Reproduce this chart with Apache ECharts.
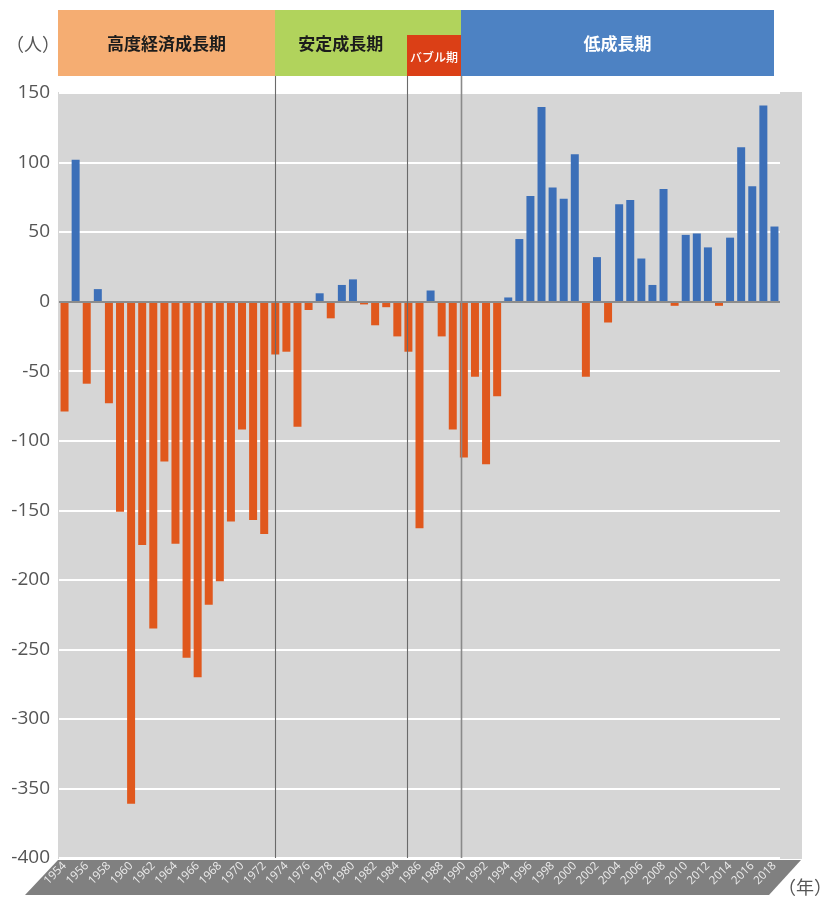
<!DOCTYPE html>
<html>
<head>
<meta charset="utf-8">
<script src="https://cdn.jsdelivr.net/npm/echarts@6/dist/echarts.min.js"></script>
<style>
html,body{margin:0;padding:0;background:#fff;}
#main{width:822px;height:898px;}
</style>
</head>
<body>
<div id="main"></div>
<script>
// ---- data ----
const years = [];
for (let y = 1954; y <= 2018; y++) years.push(String(y));
const values = [
  -79, 102, -59, 9, -73, -151, -361, -175, -235, -115,   // 1954-1963
  -174, -256, -270, -218, -201, -158, -92, -157, -167, -38, // 1964-1973
  -36, -90, -6, 6, -12, 12, 16, -2, -17, -4,               // 1974-1983
  -25, -36, -163, 8, -25, -92, -112, -54, -117, -68,       // 1984-1993
  3, 45, 76, 140, 82, 74, 106, -54, 32, -15,               // 1994-2003
  70, 73, 31, 12, 81, -3, 48, 49, 39, -3,                  // 2004-2013
  46, 111, 83, 141, 54                                     // 2014-2018
];
const yMin = -400, yMax = 150, yStep = 50;
const periodNames = ['高度経済成長期', '安定成長期', 'バブル期', '低成長期'];
const periodFrom = [1953.5, 1973, 1984.85, 1989.7];
const periodTo = [1973, 1989.7, 1989.7, 2018];
const dividerYears = [1973, 1984.85, 1989.7];
const unitY = '（人）';
const unitX = '（年）';

const BLUE = '#3C6FB8', ORANGE = '#E0581D';
const periodColors = ['#F5AD72', '#B1D35C', '#DB3F16', '#4D82C3'];
const periodTextColors = ['#1c1c1c', '#1c1c1c', '#ffffff', '#ffffff'];

const chart = echarts.init(document.getElementById('main'), null, {renderer: 'canvas'});
const GRID = {left: 59, right: 42, top: 93, bottom: 40};

chart.setOption({
  animation: false,
  backgroundColor: '#ffffff',
  grid: GRID,
  xAxis: {
    type: 'category',
    data: years,
    axisLine: {show: false},
    axisTick: {show: false},
    axisLabel: {
      interval: 1, rotate: 45, margin: 6,
      color: '#ececec', fontSize: 11.5, fontFamily: 'Open Sans, Noto Sans, sans-serif'
    },
    splitLine: {show: false}
  },
  yAxis: {
    type: 'value', min: yMin, max: yMax, interval: yStep,
    axisLine: {show: false}, axisTick: {show: false},
    axisLabel: {color: '#555', fontSize: 19, margin: 9, fontFamily: 'Open Sans, Noto Sans, sans-serif'},
    splitLine: {lineStyle: {color: '#ffffff', width: 2}}
  },
  series: [{
    type: 'bar',
    data: values,
    barWidth: '72%',
    itemStyle: {color: p => p.value >= 0 ? BLUE : ORANGE},
    markLine: {
      silent: true, symbol: 'none', label: {show: false},
      lineStyle: {color: '#8c8c8c', width: 2, type: 'solid'},
      data: [{yAxis: 0}]
    }
  }]
});

// ---- decorations computed from the axes ----
function xOf(year) {
  const base = Math.floor(year);
  const frac = year - base;
  const i0 = years.indexOf(String(base));
  if (i0 < 0) {
    const first = chart.convertToPixel({xAxisIndex: 0}, 0);
    const second = chart.convertToPixel({xAxisIndex: 0}, 1);
    return first + (year - Number(years[0])) * (second - first);
  }
  const x0 = chart.convertToPixel({xAxisIndex: 0}, i0);
  const x1 = chart.convertToPixel({xAxisIndex: 0}, Math.min(i0 + 1, years.length - 1));
  const step = i0 + 1 < years.length ? (x1 - x0) : (x0 - chart.convertToPixel({xAxisIndex: 0}, i0 - 1));
  return x0 + frac * step;
}
const yTop = chart.convertToPixel({yAxisIndex: 0}, yMax);
const yBot = chart.convertToPixel({yAxisIndex: 0}, yMin);
const gridL = GRID.left;
const gridR = 822 - GRID.right;
const graphics = [];

graphics.push({
  type: 'rect', z: -10, silent: true,
  shape: {x: gridL - 1, y: yTop - 1, width: gridR - gridL + 23, height: yBot - yTop + 2},
  style: {fill: '#D6D6D6'}
});
graphics.push({
  type: 'polygon', z: -5, silent: true,
  shape: {points: [[gridL - 1, yBot + 2], [gridR + 21, yBot + 2], [gridR - 11, yBot + 37], [25, yBot + 37]]},
  style: {fill: '#808080'}
});

const hTop = 10, hBot = 76, bubbleTop = 35;
periodNames.forEach((name, i) => {
  const x0 = i === 0 ? gridL - 1 : Math.round(xOf(periodFrom[i]));
  const x1 = Math.round(xOf(periodTo[i]));
  const top = i === 2 ? bubbleTop : hTop;
  const small = i === 2;
  graphics.push({
    type: 'rect', z: 1, silent: true,
    shape: {x: x0, y: top, width: x1 - x0, height: hBot - top},
    style: {fill: periodColors[i]}
  });
  let cx = (x0 + x1) / 2;
  if (i === 1) cx = (x0 + xOf(periodFrom[2])) / 2;
  graphics.push({
    type: 'text', z: 3, silent: true,
    x: cx, y: small ? 57 : 44,
    style: {
      text: name, fill: periodTextColors[i],
      font: (small ? '500 12px' : 'bold 17px') + ' "Noto Sans CJK JP", sans-serif',
      align: 'center', verticalAlign: 'middle'
    }
  });
});
dividerYears.forEach((yr, i) => {
  const x = Math.round(xOf(yr)) + 0.5;
  graphics.push({
    type: 'line', z: 5, silent: true,
    shape: {x1: x, y1: hBot, x2: x, y2: yBot},
    style: {stroke: i === 2 ? '#8a8a8a' : '#6a6a6a', lineWidth: i === 2 ? 1.6 : 1.1}
  });
});
graphics.push({
  type: 'text', silent: true, x: 6, y: 44,
  style: {text: unitY, fill: '#555', font: '18px "Noto Sans CJK JP", sans-serif', verticalAlign: 'middle'}
});
graphics.push({
  type: 'text', silent: true, x: 778, y: 887,
  style: {text: unitX, fill: '#555', font: '18px "Noto Sans CJK JP", sans-serif', verticalAlign: 'middle'}
});

chart.setOption({graphic: graphics});
</script>
</body>
</html>
